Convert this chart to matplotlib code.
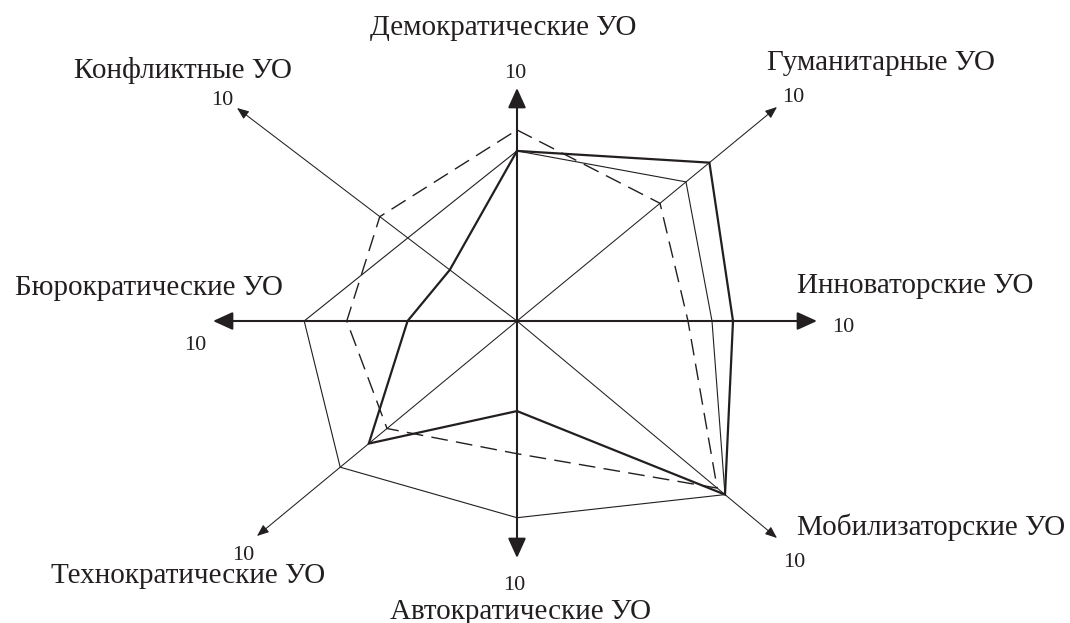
import matplotlib
matplotlib.use("Agg")
import matplotlib.pyplot as plt

# | data |--------------------------------------------------------------------------------------------------------------|
axis_labels = [
    "Демократические УО",
    "Гуманитарные УО",
    "Инноваторские УО",
    "Мобилизаторские УО",
    "Автократические УО",
    "Технократические УО",
    "Бюрократические УО",
    "Конфликтные УО",
]
max_value = 10

series_bold = [7.3, 7.4, 7.2, 8.0, 3.8, 5.7, 3.6, 2.4]
series_thin = [7.3, 6.5, 6.5, 8.0, 8.3, 6.8, 7.0, 3.9]
series_dashed = [8.2, 5.5, 5.7, 7.7, 5.6, 5.0, 5.6, 4.9]

# | layout (pixel space, y down) |----------------------------------------------------------------------------------|
W, H = 1070, 623
center = (517, 321)
# end of every axis = value 10
axis_vectors = [(0, -233), (260, -214), (300, 0), (260, 217),
                (0, 237), (-260, 215), (-304, 0), (-280, -213)]
main_axis = [True, False, True, False, True, False, True, False]

# anchor x, baseline y, horizontal alignment
label_pos = [(503, 35, "center"), (767, 70, "left"), (797, 293, "left"), (797, 535, "left"),
             (521, 619, "center"), (325, 583, "right"), (283, 295, "right"), (292, 78, "right")]
ten_pos = [(515, 78), (793, 102), (843, 332), (794, 567),
           (514, 590), (243, 560), (195, 350), (222, 105)]

ink = "#231f20"
font = ["Liberation Serif", "DejaVu Serif"]


def to_xy(values):
    xs, ys = [], []
    for v, (dx, dy) in zip(values, axis_vectors):
        xs.append(center[0] + dx * v / max_value)
        ys.append(center[1] + dy * v / max_value)
    return xs + xs[:1], ys + ys[:1]


fig = plt.figure(figsize=(W / 100, H / 100), dpi=100)
ax = fig.add_axes([0, 0, 1, 1])
ax.set_xlim(0, W)
ax.set_ylim(H, 0)
ax.axis("off")

# axes with arrows
for (dx, dy), is_main in zip(axis_vectors, main_axis):
    tip = (center[0] + dx, center[1] + dy)
    if is_main:
        style = "-|>,head_length=0.55,head_width=0.25"
        ax.annotate("", xy=tip, xytext=center,
                    arrowprops=dict(arrowstyle=style, mutation_scale=22, lw=1.5,
                                    color=ink, shrinkA=0, shrinkB=0), zorder=2)
    else:
        style = "-|>,head_length=0.55,head_width=0.22"
        ax.annotate("", xy=tip, xytext=center,
                    arrowprops=dict(arrowstyle=style, mutation_scale=13, lw=0.75,
                                    color=ink, shrinkA=0, shrinkB=0), zorder=2)

# series
x, y = to_xy(series_thin)
ax.plot(x, y, color=ink, lw=0.8, zorder=3)
x, y = to_xy(series_dashed)
ax.plot(x, y, color=ink, lw=1.0, dashes=(12, 6), zorder=3)
x, y = to_xy(series_bold)
ax.plot(x, y, color=ink, lw=1.6, zorder=4, solid_joinstyle="miter")

# labels
for name, (lx, ly, ha) in zip(axis_labels, label_pos):
    ax.text(lx, ly, name, ha=ha, va="baseline", fontsize=21,
            family=font, color=ink)
for tx, ty in ten_pos:
    ax.text(tx, ty, str(max_value), ha="center", va="baseline", fontsize=16,
            family=font, color=ink)

fig.savefig("out.png", dpi=100, facecolor="white")
